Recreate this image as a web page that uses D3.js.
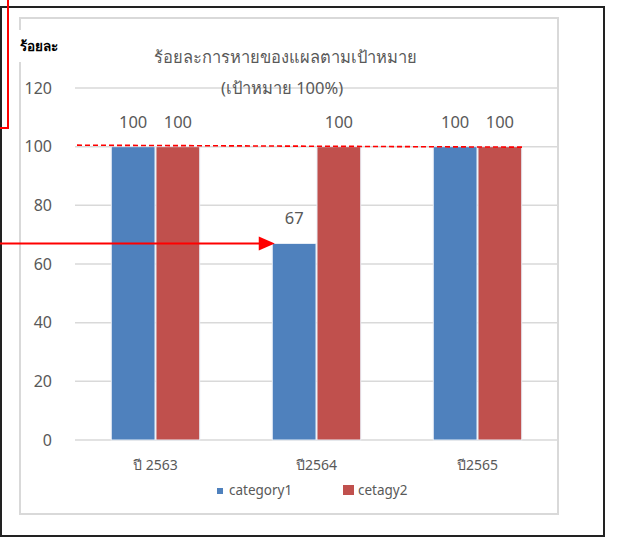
<!DOCTYPE html>
<html>
<head>
<meta charset="utf-8">
<script src="https://cdn.jsdelivr.net/npm/d3@7"></script>
<style>
  html, body { margin: 0; padding: 0; background: #fff; }
  svg { display: block; font-family: Tahoma, "Noto Sans", "DejaVu Sans", sans-serif; }
</style>
</head>
<body>
<svg id="chart" width="617" height="540"></svg>
<script>
// Wound-healing rate against target, per fiscal year
const years = ["ปี 2563", "ปี2564", "ปี2565"];
const seriesNames = ["category1", "cetagy2"];
const category1 = [100, 67, 100];
const cetagy2 = [100, 100, 100];
const yTicks = [0, 20, 40, 60, 80, 100, 120];
const targetValue = 100;
const titleLines = ["ร้อยละการหายของแผลตามเป้าหมาย", "(เป้าหมาย 100%)"];
const yUnitLabel = "ร้อยละ";

const colors = { category1: "#4f81bd", cetagy2: "#c0504d" };
const textGray = "#595959";
const gridGray = "#d9d9d9";

const rows = years.map((y, i) => ({ year: y, category1: category1[i], cetagy2: cetagy2[i] }));

const svg = d3.select("#chart");

// Outer frame
svg.append("rect")
  .attr("x", 1).attr("y", 7).attr("width", 603).attr("height", 529)
  .attr("fill", "#fff").attr("stroke", "#222").attr("stroke-width", 2);

// Chart area border
svg.append("rect")
  .attr("x", 20).attr("y", 18).attr("width", 538).attr("height", 496)
  .attr("fill", "#fff").attr("stroke", gridGray).attr("stroke-width", 2);

const plot = { left: 75, right: 558, top: 88, bottom: 440 };

const x0 = d3.scaleBand().domain(years).range([plot.left, plot.right]).padding(0);
const x1 = d3.scaleBand().domain(seriesNames).range([0, x0.bandwidth()])
  .paddingInner(0).paddingOuter(0.8);
const y = d3.scaleLinear().domain([0, 120]).range([plot.bottom, plot.top]);

// Gridlines
svg.append("g").selectAll("line").data(yTicks).join("line")
  .attr("x1", plot.left).attr("x2", plot.right)
  .attr("y1", d => y(d)).attr("y2", d => y(d))
  .attr("stroke", gridGray).attr("stroke-width", 1.5);

// Y axis labels
const yAxis = d3.axisLeft(y).tickValues(yTicks).tickSize(0).tickPadding(0);
const yg = svg.append("g").attr("transform", `translate(52,0)`).call(yAxis);
yg.select(".domain").remove();
yg.selectAll("text").attr("fill", textGray).style("font-size", "16px")
  .style("font-family", "Tahoma, 'Noto Sans', 'DejaVu Sans', sans-serif");

// Unit label with white backing
svg.append("rect").attr("x", 14).attr("y", 30).attr("width", 50).attr("height", 32).attr("fill", "#fff");
svg.append("text").attr("x", 20).attr("y", 51)
  .attr("font-size", 13.5).attr("font-weight", "bold").attr("fill", "#000")
  .text(yUnitLabel);

// Title
svg.append("g").selectAll("text").data(titleLines).join("text")
  .attr("x", (d, i) => i === 0 ? 285 : 282)
  .attr("y", (d, i) => 63 + i * 31)
  .attr("text-anchor", "middle").attr("font-size", 16.5).attr("fill", textGray)
  .text(d => d);

// Bars
const groups = svg.append("g").selectAll("g").data(rows).join("g")
  .attr("transform", d => `translate(${x0(d.year)},0)`);

groups.selectAll("rect").data(d => seriesNames.map(k => ({ key: k, value: d[k] }))).join("rect")
  .attr("x", d => x1(d.key) + 0.5)
  .attr("width", x1.bandwidth() - 1)
  .attr("y", d => y(d.value))
  .attr("height", d => y(0) - y(d.value))
  .attr("fill", d => colors[d.key])
  .attr("stroke", "#e8eef6").attr("stroke-width", 1);

// Data labels
groups.selectAll("text").data(d => seriesNames.map(k => ({ key: k, value: d[k] }))).join("text")
  .attr("x", d => x1(d.key) + x1.bandwidth() / 2)
  .attr("y", d => y(d.value) - 19)
  .attr("text-anchor", "middle").attr("font-size", 16.5).attr("fill", textGray)
  .text(d => d.value);

// X category labels
svg.append("g").selectAll("text").data(years).join("text")
  .attr("x", d => x0(d) + x0.bandwidth() / 2)
  .attr("y", 470)
  .attr("text-anchor", "middle").attr("font-size", 14).attr("fill", textGray)
  .text(d => d);

// Legend
const legend = svg.append("g");
legend.append("rect").attr("x", 217).attr("y", 488).attr("width", 6).attr("height", 6).attr("fill", colors.category1);
legend.append("text").attr("x", 229).attr("y", 495).attr("font-size", 13.5).attr("fill", textGray).text(seriesNames[0]);
legend.append("rect").attr("x", 343).attr("y", 485).attr("width", 11).attr("height", 10).attr("fill", colors.cetagy2);
legend.append("text").attr("x", 358).attr("y", 495).attr("font-size", 13.5).attr("fill", textGray).text(seriesNames[1]);

// Target line at 100%
const lastBarRight = x0(years[2]) + x1(seriesNames[1]) + x1.bandwidth();
svg.append("line")
  .attr("x1", 77).attr("x2", lastBarRight)
  .attr("y1", y(targetValue) - 1.5).attr("y2", y(targetValue) + 0.5)
  .attr("stroke", "#ff0000").attr("stroke-width", 1.6).attr("stroke-dasharray", "5,3");

// Arrow pointing to the 2564 category1 bar
const arrowY = y(category1[1]);
const tipX = x0(years[1]) + x1(seriesNames[0]) + 3;
svg.append("line")
  .attr("x1", 0).attr("x2", tipX - 14).attr("y1", arrowY).attr("y2", arrowY)
  .attr("stroke", "#ff0000").attr("stroke-width", 2);
svg.append("path")
  .attr("d", `M${tipX},${arrowY} L${tipX - 16},${arrowY - 7} L${tipX - 16},${arrowY + 7} Z`)
  .attr("fill", "#ff0000");

// Callout bracket at top-left
svg.append("path")
  .attr("d", "M8,0 L8,128 L0,128")
  .attr("fill", "none").attr("stroke", "#ff0000").attr("stroke-width", 2);
</script>
</body>
</html>
